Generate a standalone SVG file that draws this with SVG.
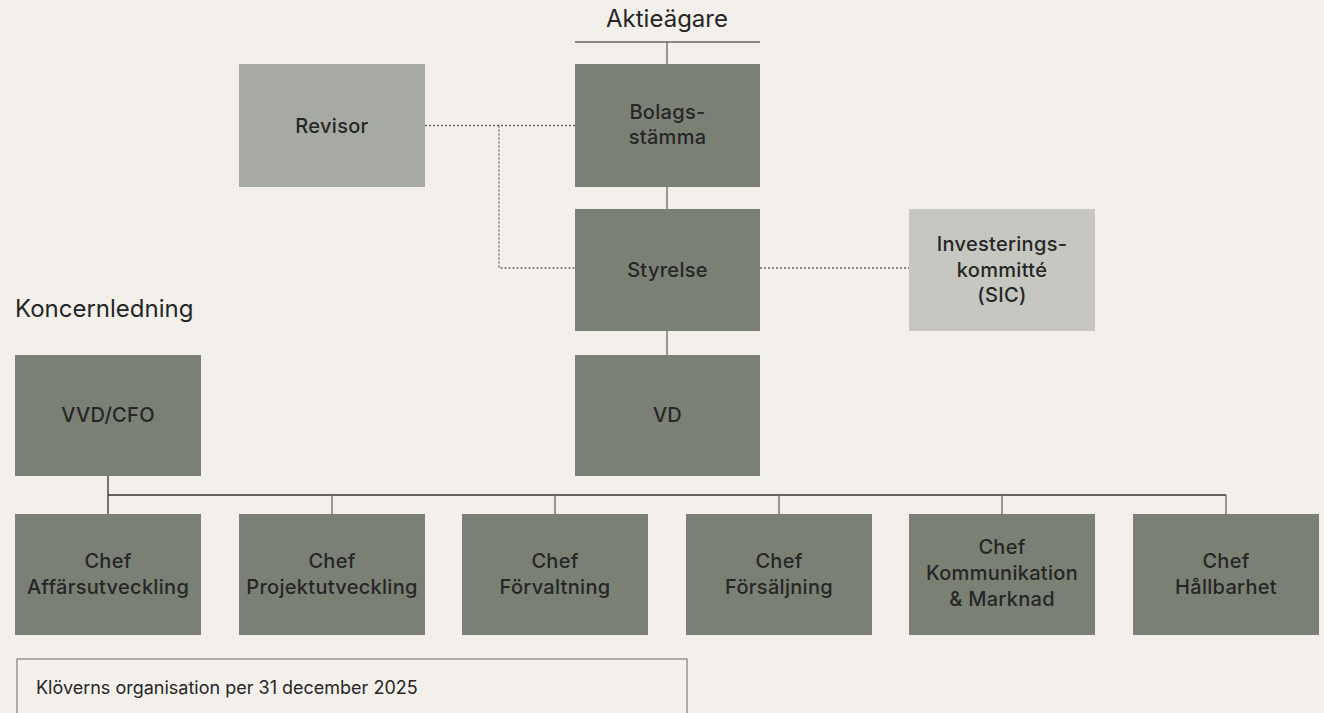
<svg xmlns="http://www.w3.org/2000/svg" width="1324" height="713" viewBox="0 0 1324 713">
<style>
.bg{fill:#F3F0EB}
.dark{fill:#7B8075}
.mid{fill:#A7AAA2}
.light{fill:#C5C7C0}
.lbl{font-family:Inter,"Liberation Sans",sans-serif;font-size:20px;font-weight:500;letter-spacing:0.3px;fill:#262626;text-anchor:middle}
.hdr{font-family:Inter,"Liberation Sans",sans-serif;font-size:24px;font-weight:400;fill:#262626}
.note{font-family:Inter,"Liberation Sans",sans-serif;font-size:18px;font-weight:400;fill:#262626}
.solid{stroke:#333;stroke-width:1.3;fill:none}
.thin{stroke:#666;stroke-width:1.3;fill:none}
.dot{stroke:#666;stroke-width:1.3;stroke-dasharray:2 2;fill:none}
</style>
<rect class="bg" x="0" y="0" width="1324" height="713"/>
<text class="hdr" x="667" y="27" text-anchor="middle">Aktieägare</text>
<text class="hdr" x="15" y="317">Koncernledning</text>
<g id="connectors">
<line class="thin" x1="575" y1="42" x2="760" y2="42"/>
<line class="thin" x1="667" y1="42" x2="667" y2="64"/>
<line class="thin" x1="667" y1="187" x2="667" y2="209"/>
<line class="thin" x1="667" y1="331" x2="667" y2="355"/>
<polyline class="dot" points="425,125.5 575,125.5"/>
<polyline class="dot" points="499,125.5 499,268 575,268"/>
<polyline class="dot" points="760,268 909,268"/>
<line class="solid" x1="108" y1="476" x2="108" y2="514"/>
<line class="solid" x1="108" y1="495" x2="1226" y2="495"/>
<line class="thin" x1="332" y1="495" x2="332" y2="514"/>
<line class="thin" x1="555" y1="495" x2="555" y2="514"/>
<line class="thin" x1="779" y1="495" x2="779" y2="514"/>
<line class="thin" x1="1002" y1="495" x2="1002" y2="514"/>
<line class="thin" x1="1226" y1="495" x2="1226" y2="514"/>
</g>
<g id="revisor"><rect class="mid" x="239" y="64" width="186" height="123"/><text class="lbl" x="332" y="133">Revisor</text></g>
<g id="bolagsstamma"><rect class="dark" x="575" y="64" width="185" height="123"/><text class="lbl" x="667.5" y="119">Bolags-</text><text class="lbl" x="667.5" y="144">stämma</text></g>
<g id="styrelse"><rect class="dark" x="575" y="209" width="185" height="122"/><text class="lbl" x="667.5" y="277">Styrelse</text></g>
<g id="investeringskommitte"><rect class="light" x="909" y="209" width="186" height="122"/><text class="lbl" x="1002" y="251">Investerings-</text><text class="lbl" x="1002" y="277">kommitté</text><text class="lbl" x="1002" y="302">(SIC)</text></g>
<g id="vvd-cfo"><rect class="dark" x="15" y="355" width="186" height="121"/><text class="lbl" x="108" y="422">VVD/CFO</text></g>
<g id="vd"><rect class="dark" x="575" y="355" width="185" height="121"/><text class="lbl" x="667.5" y="422">VD</text></g>
<g id="chef-affarsutveckling"><rect class="dark" x="15" y="514" width="186" height="121"/><text class="lbl" x="108" y="568">Chef</text><text class="lbl" x="108" y="594">Affärsutveckling</text></g>
<g id="chef-projektutveckling"><rect class="dark" x="239" y="514" width="186" height="121"/><text class="lbl" x="332" y="568">Chef</text><text class="lbl" x="332" y="594">Projektutveckling</text></g>
<g id="chef-forvaltning"><rect class="dark" x="462" y="514" width="186" height="121"/><text class="lbl" x="555" y="568">Chef</text><text class="lbl" x="555" y="594">Förvaltning</text></g>
<g id="chef-forsaljning"><rect class="dark" x="686" y="514" width="186" height="121"/><text class="lbl" x="779" y="568">Chef</text><text class="lbl" x="779" y="594">Försäljning</text></g>
<g id="chef-kommunikation"><rect class="dark" x="909" y="514" width="186" height="121"/><text class="lbl" x="1002" y="554">Chef</text><text class="lbl" x="1002" y="580">Kommunikation</text><text class="lbl" x="1002" y="606">&amp; Marknad</text></g>
<g id="chef-hallbarhet"><rect class="dark" x="1133" y="514" width="186" height="121"/><text class="lbl" x="1226" y="568">Chef</text><text class="lbl" x="1226" y="594">Hållbarhet</text></g>
<g id="legend"><rect x="17" y="659" width="670" height="70" fill="none" stroke="#888" stroke-width="1.3"/><text class="note" x="36" y="694">Klöverns organisation per 31 december 2025</text></g>
</svg>
